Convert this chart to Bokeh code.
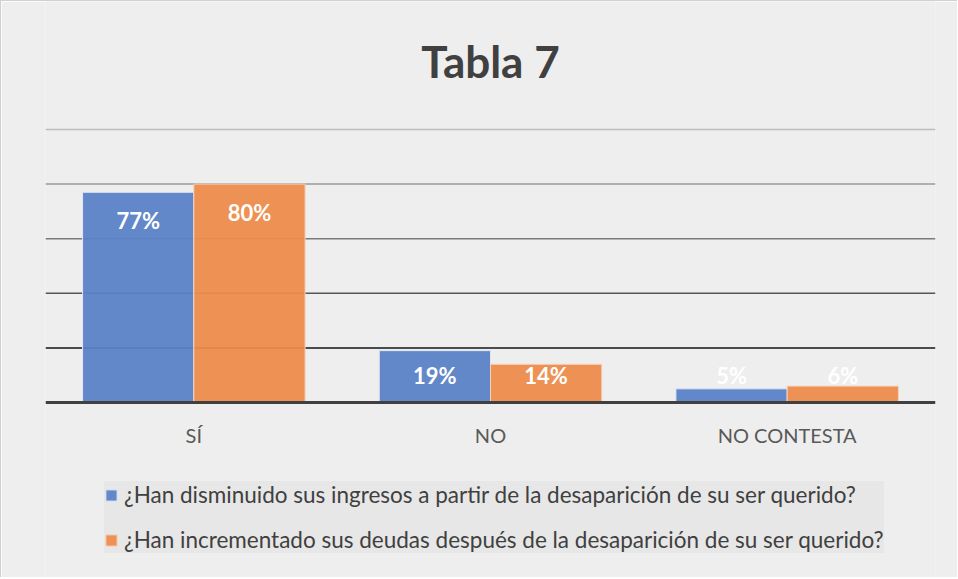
from bokeh.plotting import figure
from bokeh.models import ColumnDataSource, FactorRange, Range1d, Span, Legend, LegendItem
from bokeh.transform import dodge
from bokeh.core.properties import value
from bokeh.embed import file_html
from bokeh.resources import INLINE

title_text = "Tabla 7"
categories = ["SÍ", "NO", "NO CONTESTA"]
series1_name = "¿Han disminuido sus ingresos a partir de la desaparición de su ser querido?"
series2_name = "¿Han incrementado sus deudas después de la desaparición de su ser querido?"
series1 = [77, 19, 5]
series2 = [80, 14, 6]
y_ticks = [20, 40, 60, 80, 100]
grid_colors = ["#141414", "#555555", "#7a7a7a", "#9a9a9a", "#bdbdbd"]

FONT = "Lato"
BG = "#eeeeee"

# layout (pixels)
W, H = 957, 577
B_LEFT, B_RIGHT = 44, 23
TOP_PX = 128             # pixels above the 100% line
PLOT_PX = 273            # pixels from 0% to 100%
px_per_unit = PLOT_PX / 100.0
y_end = 100 + TOP_PX / px_per_unit
y_start = 100 - (H - TOP_PX) / px_per_unit

def label_pos(vals):
    return [max(v - 10.5, 10) for v in vals]

src = ColumnDataSource(dict(
    cat=categories,
    v1=series1, v2=series2,
    l1=[f"{v}%" for v in series1], l2=[f"{v}%" for v in series2],
    y1=label_pos(series1), y2=label_pos(series2),
    ycat=[-32 / px_per_unit] * len(categories),
))

p = figure(width=W, height=H, x_range=FactorRange(*categories, range_padding=0),
           y_range=Range1d(y_start, y_end), output_backend="svg", toolbar_location=None,
           min_border_left=B_LEFT, min_border_right=B_RIGHT, min_border_top=0,
           min_border_bottom=0,
           background_fill_color=BG, border_fill_color=BG, outline_line_color=None)
p.styles = {"border-left": "1px solid #d0d0d0", "border-top": "1px solid #d0d0d0"}
p.title.visible = False

p.xgrid.visible = False
p.ygrid.visible = False
p.yaxis.visible = False
p.xaxis.visible = False

for t, c in zip(y_ticks, grid_colors):
    p.add_layout(Span(location=t, dimension="width", line_color=c, line_width=1.5, level="underlay"))

b1 = p.vbar(x=dodge("cat", -0.1875, range=p.x_range), top="v1", bottom=0, width=0.375, source=src,
            fill_color="#5a82c8", fill_alpha=0.94, line_color="#dfe6f3", line_width=1)
b2 = p.vbar(x=dodge("cat", 0.1875, range=p.x_range), top="v2", bottom=0, width=0.375, source=src,
            fill_color="#ee8b4a", fill_alpha=0.94, line_color="#f5d2bb", line_width=1)

# baseline (category axis line)
p.add_layout(Span(location=0, dimension="width", line_color="#404040", line_width=3))

for xo, ycol, tcol in [(-0.1875, "y1", "l1"), (0.1875, "y2", "l2")]:
    p.text(x=dodge("cat", xo, range=p.x_range), y=ycol, text=tcol, source=src,
           text_font=value(FONT), text_font_size="22px", text_font_style="bold",
           text_color="white", text_align="center", text_baseline="middle")

# category labels
p.text(x="cat", y="ycat", text="cat", source=src,
       text_font=value(FONT), text_font_size="20px", text_color="#595959",
       text_align="center", text_baseline="middle")

# chart title, centred over the middle category
p.text(x=[categories[1]], y=[100 + 69 / px_per_unit], text=[title_text],
       text_font=value(FONT), text_font_size="44px", text_font_style="bold",
       text_color="#404040", text_align="center", text_baseline="middle")

legend = Legend(items=[LegendItem(label=series1_name, renderers=[b1]),
                       LegendItem(label=series2_name, renderers=[b2])],
                location=(59, 25), orientation="vertical",
                label_text_font=FONT, label_text_font_size="22.5px", label_text_color="#404040",
                glyph_width=14, glyph_height=14, label_standoff=6, label_height=24,
                spacing=18, padding=11, margin=0,
                background_fill_color="#e7e7e7", background_fill_alpha=1, border_line_color=None)
p.add_layout(legend, "center")

open("out.html", "w").write(file_html(p, INLINE))
